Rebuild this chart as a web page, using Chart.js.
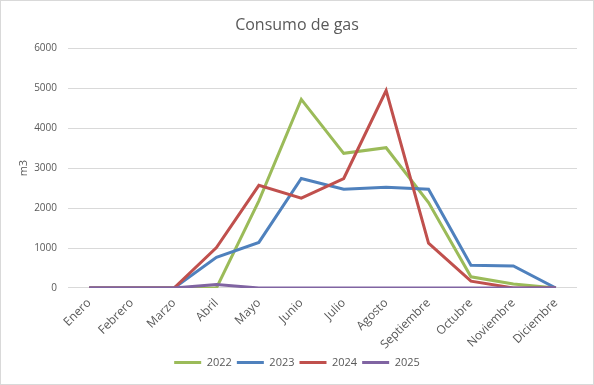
<!DOCTYPE html>
<html>
<head>
<meta charset="utf-8">
<script src="https://cdn.jsdelivr.net/npm/chart.js@4"></script>
<style>
  html, body { margin: 0; padding: 0; background: #fff; }
  #wrap { position: relative; width: 592px; height: 383px; border: 1px solid #d9d9d9; }
</style>
</head>
<body>
<div id="wrap"><canvas id="gasChart"></canvas></div>
<script>
// Meses y consumo de gas (m3) por año
const months = ['Enero', 'Febrero', 'Marzo', 'Abril', 'Mayo', 'Junio', 'Julio', 'Agosto', 'Septiembre', 'Octubre', 'Noviembre', 'Diciembre'];
const gas2022 = [0, 0, 0, 0, 2180, 4720, 3370, 3510, 2140, 280, 100, 0];
const gas2023 = [0, 0, 0, 770, 1140, 2740, 2470, 2520, 2470, 570, 550, 0];
const gas2024 = [0, 0, 0, 1010, 2570, 2250, 2740, 4940, 1120, 170, 0, 0];
const gas2025 = [0, 0, 0, 90, 0, 0, 0, 0, 0, 0, 0, 0];
const yTicks = [0, 1000, 2000, 3000, 4000, 5000, 6000];

const grey = '#595959';
const font = 'Open Sans';

function serie(label, data, color, order) {
  return {
    label: label,
    data: data,
    borderColor: color,
    backgroundColor: color,
    borderWidth: 3,
    pointRadius: 0,
    tension: 0,
    order: order
  };
}

const ctx = document.getElementById('gasChart').getContext('2d');
new Chart(ctx, {
  type: 'line',
  data: {
    labels: months,
    datasets: [
      serie('2022', gas2022, '#9bbb59', 4),
      serie('2023', gas2023, '#4f81bd', 3),
      serie('2024', gas2024, '#c0504d', 2),
      serie('2025', gas2025, '#8064a2', 1)
    ]
  },
  options: {
    responsive: true,
    maintainAspectRatio: false,
    animation: false,
    layout: { padding: { left: 16, right: 16, top: 11, bottom: 6 } },
    plugins: {
      title: {
        display: true,
        text: 'Consumo de gas',
        color: grey,
        font: { family: font, size: 16, weight: 'normal' },
        padding: { top: 4, bottom: 13 }
      },
      legend: {
        position: 'bottom',
        labels: {
          usePointStyle: true,
          pointStyle: 'line',
          pointStyleWidth: 27,
          color: grey,
          font: { family: font, size: 11 },
          padding: 5,
          sort: (a, b) => a.datasetIndex - b.datasetIndex
        }
      },
      tooltip: { enabled: false }
    },
    scales: {
      x: {
        offset: true,
        grid: { display: false },
        border: { display: false },
        // las etiquetas giradas no deben empujar el área del gráfico
        afterFit: axis => { axis.paddingLeft = 0; },
        ticks: {
          color: grey,
          font: { family: font, size: 12 },
          autoSkip: false,
          minRotation: 45,
          maxRotation: 45,
          padding: 0
        }
      },
      y: {
        min: 0,
        max: 6000,
        afterBuildTicks: axis => { axis.ticks = yTicks.map(v => ({ value: v })); },
        afterFit: axis => { axis.width = 51; },
        grid: { color: '#d9d9d9', drawTicks: false },
        border: { display: false },
        ticks: {
          color: grey,
          font: { family: font, size: 10 },
          padding: 11,
          callback: v => String(v)
        },
        title: {
          display: true,
          text: 'm3',
          color: grey,
          font: { family: font, size: 11 },
          padding: { top: 0, bottom: 4 }
        }
      }
    }
  }
});
</script>
</body>
</html>
